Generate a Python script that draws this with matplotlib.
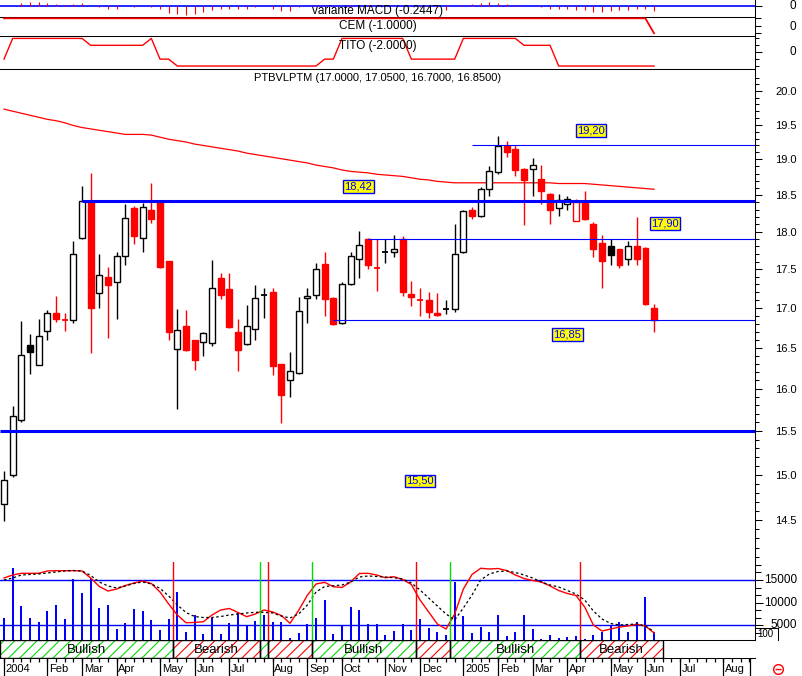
import matplotlib
matplotlib.use('Agg')
import matplotlib.pyplot as plt
import numpy as np
from matplotlib.ticker import FixedLocator, NullFormatter, NullLocator
from matplotlib.patches import Rectangle
from matplotlib.lines import Line2D

plt.rcParams['font.family'] = ['Liberation Sans', 'DejaVu Sans']
plt.rcParams['hatch.linewidth'] = 0.8

# ---------------- data ----------------
opens = [14.67, 15.00, 15.63, 16.53, 16.29, 16.71, 16.94, 16.86, 16.85, 17.91,
         18.42, 17.19, 17.40, 17.33, 17.67, 18.32, 17.91, 18.29, 18.42, 17.61,
         16.48, 16.77, 16.59, 16.57, 16.56, 17.38, 17.24, 16.69, 16.55, 16.73,
         17.15, 17.20, 16.30, 16.10, 16.19, 17.12, 17.16, 17.57, 17.12, 16.81,
         17.30, 17.63, 17.90, 17.53, 17.71, 17.72, 17.90, 17.18, 17.11, 17.10,
         16.94, 16.98, 16.99, 17.72, 18.29, 18.21, 18.58, 18.82, 19.19, 19.15,
         18.86, 18.87, 18.72, 18.52, 18.32, 18.37, 18.14, 18.42, 18.10, 17.85,
         17.81, 17.76, 17.64, 17.81, 17.78, 17.00]
highs = [15.04, 15.79, 16.83, 16.67, 16.86, 16.97, 17.15, 16.94, 17.87, 18.63,
         18.81, 17.70, 17.53, 17.73, 18.38, 18.35, 18.39, 18.67, 18.42, 17.61,
         16.98, 16.97, 16.60, 16.70, 17.62, 17.45, 17.45, 16.86, 17.04, 17.29,
         17.25, 17.26, 16.30, 16.44, 17.14, 17.25, 17.58, 17.72, 17.14, 17.33,
         17.73, 18.01, 17.91, 17.90, 17.90, 17.95, 17.94, 17.35, 17.25, 17.20,
         17.19, 17.10, 18.10, 18.30, 18.33, 18.61, 18.91, 19.34, 19.27, 19.21,
         18.88, 19.02, 18.92, 18.53, 18.51, 18.49, 18.45, 18.56, 18.13, 17.95,
         17.90, 17.77, 17.87, 18.20, 17.79, 17.05]
lows = [14.49, 14.98, 15.60, 16.18, 16.29, 16.59, 16.82, 16.71, 16.81, 17.90,
        16.43, 17.00, 16.62, 16.86, 17.56, 17.83, 17.73, 18.11, 17.51, 16.59,
        15.76, 16.46, 16.23, 16.40, 16.52, 17.11, 16.74, 16.21, 16.53, 16.59,
        16.87, 16.16, 15.59, 15.90, 16.18, 16.81, 17.11, 16.89, 16.78, 16.80,
        17.29, 17.38, 17.50, 17.22, 17.58, 17.66, 17.15, 17.02, 16.90, 16.87,
        16.90, 16.92, 16.95, 17.71, 18.17, 18.20, 18.49, 18.80, 19.04, 18.77,
        18.09, 18.49, 18.38, 18.10, 18.21, 18.30, 18.14, 18.16, 17.66, 17.25,
        17.56, 17.51, 17.55, 17.55, 17.04, 16.70]
closes = [14.94, 15.67, 16.41, 16.45, 16.64, 16.93, 16.86, 16.85, 17.70, 18.42,
          17.00, 17.42, 17.29, 17.67, 18.18, 17.94, 18.33, 18.17, 17.53, 16.69,
          16.72, 16.47, 16.35, 16.68, 17.25, 17.17, 16.76, 16.47, 16.77, 17.12,
          17.16, 16.28, 15.93, 16.21, 16.96, 17.145, 17.50, 17.11, 16.79, 17.30,
          17.67, 17.82, 17.55, 17.52, 17.72, 17.77, 17.20, 17.14, 17.10, 16.95,
          16.91, 16.98, 17.70, 18.28, 18.21, 18.58, 18.84, 19.19, 19.10, 18.85,
          18.71, 18.92, 18.55, 18.29, 18.43, 18.44, 18.40, 18.17, 17.77, 17.61,
          17.68, 17.55, 17.80, 17.63, 17.05, 16.85]
ma_line = [19.73, 19.70, 19.67, 19.64, 19.61, 19.58, 19.56, 19.53, 19.49, 19.46,
           19.44, 19.42, 19.40, 19.38, 19.36, 19.36, 19.36, 19.35, 19.32, 19.29,
           19.27, 19.25, 19.22, 19.20, 19.18, 19.16, 19.14, 19.12, 19.09, 19.07,
           19.05, 19.03, 19.01, 18.99, 18.97, 18.95, 18.92, 18.90, 18.88, 18.85,
           18.83, 18.82, 18.81, 18.79, 18.78, 18.77, 18.76, 18.74, 18.72, 18.71,
           18.69, 18.68, 18.67, 18.67, 18.67, 18.67, 18.67, 18.67, 18.67, 18.67,
           18.67, 18.67, 18.67, 18.67, 18.66, 18.66, 18.66, 18.66, 18.65, 18.64,
           18.63, 18.62, 18.61, 18.60, 18.59, 18.58]
volume = [6670, 17700, 9250, 6670, 5650, 8150, 9470, 6380, 15210, 12190,
          15370, 8880, 9470, 4170, 5430, 8590, 8150, 6160, 3890, 6380,
          12410, 3440, 7260, 3000, 6670, 3070, 5430, 7640, 5060, 5940,
          7260, 5650, 5650, 2250, 3220, 5210, 6670, 10580, 3070, 5060,
          9100, 8370, 5280, 5280, 2850, 3730, 5280, 3950, 6380, 4320,
          3440, 2850, 14620, 7040, 3220, 4680, 3580, 7260, 2630, 3440,
          7260, 4170, 1970, 2850, 2250, 2470, 2630, 2000, 2850, 3580,
          4900, 5790, 3580, 5790, 11300, 3580]
osc_red = [15430, 16100, 16470, 16470, 16470, 16980, 17050, 17050, 17050, 16980,
           15430, 13560, 12560, 13000, 13780, 14330, 14770, 14220, 12340, 9690,
           7260, 5560, 5610, 5780, 7260, 8370, 8700, 7820, 6890, 7490,
           8370, 7930, 7150, 5430, 8300, 11610, 14110, 14480, 13510, 13340,
           14550, 16430, 16470, 16100, 15500, 15720, 15100, 14000, 10580, 7930,
           5280, 4170, 7500, 13000, 16210, 17580, 17420, 17530, 17090, 16100,
           15320, 14880, 14550, 13670, 12670, 12010, 11570, 9030, 5060, 3730,
           4170, 4610, 4840, 5210, 4840, 3290]
osc_dash = [14990, 15430, 16100, 16210, 16320, 16540, 16760, 16980, 17090, 16980,
            15990, 14550, 13670, 13230, 13670, 14220, 14550, 14110, 13160, 11460,
            9470, 7820, 6930, 6710, 6710, 6930, 7260, 7490, 7710, 7860,
            7860, 7710, 7040, 6600, 7490, 9470, 12340, 13560, 13730, 13890,
            14550, 15650, 15880, 15770, 15650, 15500, 15210, 14330, 12780, 11020,
            9250, 7490, 6160, 8810, 11680, 14990, 16320, 16870, 16980, 16650,
            16100, 15430, 14550, 13890, 13450, 12670, 11900, 10580, 8150, 6380,
            5390, 5060, 5170, 5280, 4840, 3620]
macd = [0.0, 0.016, 0.17, 0.22, 0.22, 0.17, 0.10, 0.07, 0.12, 0.17,
        0.01, -0.07, -0.16, -0.16, -0.02, -0.07, -0.01, -0.07, -0.16, -0.35,
        -0.42, -0.47, -0.42, -0.30, -0.21, -0.16, -0.16, -0.16, -0.16, -0.07,
        -0.02, -0.16, -0.24, -0.24, -0.07, -0.01, 0.05, -0.07, 0.01, 0.02,
        0.03, 0.07, 0.05, 0.02, 0.01, 0.0, -0.02, -0.02, -0.03, -0.03,
        -0.03, -0.21, -0.02, 0.07, 0.12, 0.17, 0.22, 0.16, 0.10, 0.07,
        0.01, -0.01, -0.07, -0.16, -0.16, -0.16, -0.21, -0.21, -0.30, -0.30,
        -0.24, -0.21, -0.21, -0.16, -0.16, -0.2447]
cem = [0.0] * 75 + [-1.0]
tito = ([-1] + [2] * 9 + [1] * 7 + [2] + [-1] * 2 + [-2] * 17 + [-1] * 2 +
        [2] * 8 + [-1] * 6 + [2] * 7 + [1] * 4 + [-2] * 12)

level_values = [18.42, 19.20, 17.90, 16.85, 15.50]
level_labels = ['18,42', '19,20', '17,90', '16,85', '15,50']
level_start = [9, 54, 42, 38, -0.5]
level_width = [2.2, 0.8, 0.8, 0.8, 2.2]
label_pos = [(40.9, 18.62), (67.7, 19.42), (76.3, 18.11), (65.0, 16.66), (48.0, 14.93)]

signal_bounds = [19.5, 29.5, 30.5, 35.5, 47.5, 51.5, 66.5]
signal_kinds = ['bull', 'bear', 'bull', 'bear', 'bull', 'bear', 'bull', 'bear']
band_start, band_end = -0.4615, 76.04

month_idx = [0, 5, 9, 13, 18, 22, 26, 31, 35, 39, 44, 48, 53, 57, 61, 65, 70, 74, 78, 83, 86.1]
month_lbl = ['2004', 'Feb', 'Mar', 'Apr', 'May', 'Jun', 'Jul', 'Aug', 'Sep', 'Oct', 'Nov', 'Dec',
             '2005', 'Feb', 'Mar', 'Apr', 'May', 'Jun', 'Jul', 'Aug', '']

price_ticks = [14.5, 15.0, 15.5, 16.0, 16.5, 17.0, 17.5, 18.0, 18.5, 19.0, 19.5, 20.0]
vol_ticks = [5000, 10000, 15000]

# ---------------- layout ----------------
W, H = 802, 676
fig = plt.figure(figsize=(W / 100, H / 100), dpi=100)
XL = (-0.4615, 86.65)
RED = '#ff0000'
BLUE = '#0000ff'
GREEN = '#00dd00'


def rect(x0, y0, x1, y1):
    return [x0 / W, 1 - y1 / H, (x1 - x0) / W, (y1 - y0) / H]


def mk(r):
    ax = fig.add_axes(rect(*r))
    ax.set_xlim(*XL)
    for s in ax.spines.values():
        s.set_visible(False)
        s.set_linewidth(0.75)
    ax.set_xticks([])
    ax.set_yticks([])
    ax.patch.set_alpha(0)
    return ax


ax_macd = mk((0, 0, 755, 17))
ax_cem = mk((0, 17, 755, 36))
ax_tito = mk((0, 36, 755, 69))
ax_price = mk((0, 69, 755, 562))
ax_vol = mk((0, 562, 755, 640))
ax_band = mk((0, 640, 755, 657.5))
ax_date = mk((0, 657.5, 755, 676))

XR = 796 / 755  # x position of right-aligned labels in axes fraction

idx = np.arange(len(closes))

# ---- MACD ----
ax_macd.set_ylim(-0.572, 0.312)
ax_macd.axhline(0, color=BLUE, lw=1.2)
ax_macd.vlines(idx, 0, macd, color=RED, lw=0.8)
ax_macd.text(0.5, 0.36, 'variante MACD (-0.2447)', transform=ax_macd.transAxes,
             ha='center', va='center', fontsize=8.5)
for ax in (ax_macd, ax_cem, ax_tito):
    ax.spines['bottom'].set_visible(True)
    ax.spines['right'].set_visible(True)
    ax.yaxis.tick_right()
ax_macd.set_yticks([0])
ax_macd.set_yticklabels([])
ax_macd.tick_params(axis='y', length=5, width=0.75)
ax_macd.text(XR, 0, '0', transform=ax_macd.get_yaxis_transform(), ha='right', va='center', fontsize=8.5)

# ---- CEM ----
ax_cem.set_ylim(-1.18, 0.087)
ax_cem.plot(idx, cem, color=RED, lw=1.3)
ax_cem.text(0.5, 0.5, 'CEM (-1.0000)', transform=ax_cem.transAxes, ha='center', va='center', fontsize=8.5)
ax_cem.set_yticks([0, -0.5, -1.0])
ax_cem.set_yticklabels([])
ax_cem.tick_params(axis='y', length=4, width=0.75)
ax_cem.text(XR, 0.47, '0', transform=ax_cem.transAxes, ha='right', va='center', fontsize=8.5)

# ---- TITO ----
ax_tito.set_ylim(-2.43, 2.35)
ax_tito.plot(idx, tito, color=RED, lw=1.0)
ax_tito.text(0.5, 0.70, 'TITO (-2.0000)', transform=ax_tito.transAxes, ha='center', va='center', fontsize=8.5)
ax_tito.yaxis.set_major_locator(FixedLocator([0]))
ax_tito.yaxis.set_minor_locator(FixedLocator([-2, -1, 1, 2]))
ax_tito.yaxis.set_major_formatter(NullFormatter())
ax_tito.tick_params(axis='y', which='major', length=5, width=0.75)
ax_tito.tick_params(axis='y', which='minor', length=3, width=0.75)
ax_tito.text(XR, 0, '0', transform=ax_tito.get_yaxis_transform(), ha='right', va='center', fontsize=8.5)

# ---- price ----
ax_price.set_yscale('log')
ax_price.set_ylim(14.05, 20.333)
ax_price.set_xlim(*XL)
ax_price.spines['right'].set_visible(True)
ax_price.yaxis.tick_right()
ax_price.yaxis.set_major_locator(FixedLocator(price_ticks))
ax_price.yaxis.set_minor_locator(FixedLocator([round(14.1 + 0.1 * k, 1) for k in range(62)]))
ax_price.yaxis.set_major_formatter(matplotlib.ticker.FixedFormatter(['%.1f' % v for v in price_ticks]))
ax_price.yaxis.set_minor_formatter(NullFormatter())
ax_price.tick_params(axis='y', which='major', length=5, width=0.75, labelsize=8, pad=9.5)
ax_price.tick_params(axis='y', which='minor', length=3, width=0.75)

ax_price.plot(idx, ma_line, color=RED, lw=0.9, zorder=2)

bw = 0.66
for i in range(len(closes)):
    o, h, l, c = opens[i], highs[i], lows[i], closes[i]
    prev = closes[i - 1] if i > 0 else o - 1
    col = RED if c < prev else 'black'
    ax_price.vlines(i, l, h, color=col, lw=1.0, zorder=3)
    if abs(c - o) <= 0.012:
        ax_price.hlines(c, i - bw / 2, i + bw / 2, color=col, lw=1.3, zorder=4)
    else:
        face = col if c < o else 'white'
        ax_price.bar(i, abs(c - o), bottom=min(o, c), width=bw, facecolor=face,
                     edgecolor=col, linewidth=1.0, zorder=4)

for v, s, lw in zip(level_values, level_start, level_width):
    ax_price.hlines(v, s, XL[1], color=BLUE, lw=lw, zorder=5)
for (lx, ly), t in zip(label_pos, level_labels):
    ax_price.text(lx, ly, t, color=BLUE, fontsize=8, ha='center', va='center', zorder=6,
                  bbox=dict(boxstyle='square,pad=0.12', fc='#ffff00', ec=BLUE, lw=1.0))
ax_price.text(0.5, 0.981, 'PTBVLPTM (17.0000, 17.0500, 16.7000, 16.8500)', transform=ax_price.transAxes,
              ha='center', va='center', fontsize=8)

# ---- volume ----
ax_vol.set_ylim(1744, 18967)
ax_vol.spines['right'].set_visible(True)
ax_vol.spines['bottom'].set_visible(True)
ax_vol.yaxis.tick_right()
ax_vol.bar(idx, volume, width=0.26, color=BLUE, zorder=2)
for v in (15000, 5000):
    ax_vol.axhline(v, color=BLUE, lw=1.0, zorder=1)
ax_vol.plot(idx, osc_red, color=RED, lw=1.0, zorder=3)
ax_vol.plot(idx, osc_dash, color='black', lw=0.9, dashes=(2, 2), zorder=3)
for k, b in enumerate(signal_bounds):
    colr = RED if signal_kinds[k + 1] == 'bear' else GREEN
    ax_vol.axvline(b, color=colr, lw=1.0, zorder=4)
ax_vol.yaxis.set_major_locator(FixedLocator(vol_ticks))
ax_vol.yaxis.set_minor_locator(FixedLocator([5000 / 3 * k for k in range(1, 12)]))
ax_vol.yaxis.set_major_formatter(NullFormatter())
ax_vol.tick_params(axis='y', which='major', length=6, width=0.75)
ax_vol.tick_params(axis='y', which='minor', length=4, width=0.75)
for v in vol_ticks:
    ax_vol.text(797 / 755, v, str(v), transform=ax_vol.get_yaxis_transform(), ha='right', va='center',
                fontsize=8.5)

# ---- band ----
ax_band.set_ylim(0, 1)
ax_band.spines['bottom'].set_visible(True)
edges = [band_start] + signal_bounds + [band_end]
for k, kind in enumerate(signal_kinds):
    x0, x1 = edges[k], edges[k + 1]
    hc = GREEN if kind == 'bull' else RED
    ax_band.add_patch(Rectangle((x0, 0), x1 - x0, 1, fill=False, hatch='///', edgecolor=hc, lw=0))
    ax_band.add_patch(Rectangle((x0, 0), x1 - x0, 1, fill=False, edgecolor='black', lw=1.0))
    if x1 - x0 > 8:
        ax_band.text((x0 + x1) / 2, 0.45, 'Bullish' if kind == 'bull' else 'Bearish',
                     ha='center', va='center', fontsize=9.5)

# ---- date axis ----
ax_date.set_ylim(0, 1)
ax_date.vlines(np.arange(0, 87), 0.74, 1.0, color='black', lw=0.9)
ax_date.vlines(month_idx, 0.0, 1.0, color='black', lw=0.9)
for m, t in zip(month_idx, month_lbl):
    ax_date.text(m + 0.2, 0.40, t, ha='left', va='center', fontsize=8)

# ---- extras on the right ----
fig.text(757 / W, 1 - 634 / H, '100', fontsize=7, ha='left', va='center')
fig.add_artist(Line2D([755 / W, 778 / W], [1 - 628 / H, 1 - 628 / H], color='black', lw=0.75))
fig.add_artist(Line2D([778 / W, 778 / W], [1 - 628 / H, 1 - 640 / H], color='black', lw=0.75))
fig.add_artist(Line2D([777.5 / W], [1 - 668.5 / H], marker='o', ms=7, mfc='none', mec=RED, mew=1.0))
fig.add_artist(Line2D([777.5 / W], [1 - 668.5 / H], marker='_', ms=4, mec=RED, mew=1.0))

fig.savefig('out.png', dpi=100)
